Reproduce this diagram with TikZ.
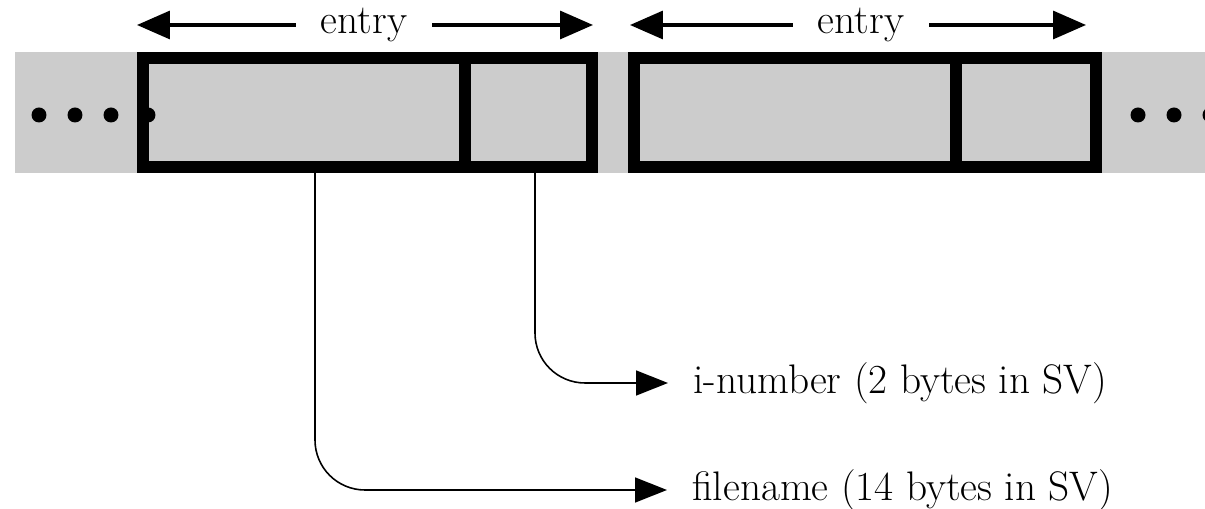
\documentclass[tikz,border=0pt]{standalone}
\usepackage{tikz}
\usetikzlibrary{arrows.meta}
\usetikzlibrary{positioning}
\tikzstyle{field} = [rectangle, draw, line width=0.25cm, fill=black!20,
    minimum height=2.18cm, inner sep=0pt]
\tikzstyle{lbl} = [font=\fontsize{23.5}{28}\selectfont, inner ysep=0pt]
\tikzstyle{blob} = [circle, fill, inner sep=0pt, minimum size=0.3cm]

\begin{document}
\begin{tikzpicture}[x=0.02cm,y=-0.02cm,
                    big/.style={-{Triangle[length=0.66cm,width=0.56cm]},line width=1.9pt},
                    thin/.style={-{Triangle[length=0.64cm,width=0.5cm]},line width=0.9pt,rounded corners=1cm}]
  \useasboundingbox (0,0) rectangle (1205,509);

  % the directory strip
  \fill[black!20] (15,52) rectangle (1205,173);

  \node[field,minimum width=6.44cm] (name1) at (304,112.5)  {};
  \node[field,minimum width=2.54cm] (ino1)  at (528.5,112.5) {};
  \node[field,minimum width=6.44cm] (name2) at (795,112.5)  {};
  \node[field,minimum width=2.8cm]  (ino2)  at (1026,112.5) {};

  \foreach \x/\n in {39/a,75/b,111/c,148/d,1138/e,1174/f,1210/g}
    \node[blob] (dot\n) at (\x,115) {};

  % entry markers
  \node[lbl,inner xsep=0.5cm] (ent1) at (364,25) {entry};
  \node[lbl,inner xsep=0.5cm] (ent2) at (861,25) {entry};
  \coordinate (e1l) at (137,25);
  \coordinate (e1r) at (593,25);
  \coordinate (e2l) at (630,25);
  \coordinate (e2r) at (1086,25);
  \draw[big] (ent1) -- (e1l);
  \draw[big] (ent1) -- (e1r);
  \draw[big] (ent2) -- (e2l);
  \draw[big] (ent2) -- (e2r);

  % field labels
  \node[lbl,anchor=west,inner xsep=0.5cm] (inum)  at (668,383) {i-number (2 bytes in SV)};
  \node[lbl,anchor=west,inner xsep=0.5cm] (fname) at (667,490) {filename (14 bytes in SV)};

  \draw[thin] ([xshift=0.13cm]ino1.south)  |- (inum.west);
  \draw[thin] ([xshift=0.22cm]name1.south) |- (fname.west);
\end{tikzpicture}
\end{document}
